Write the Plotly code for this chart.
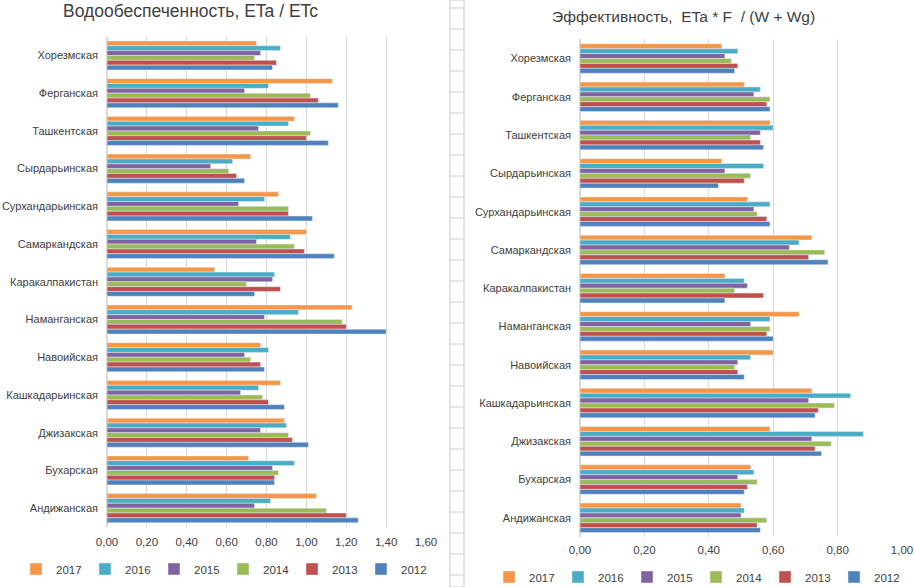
import plotly.graph_objs as go

# Regions, top to bottom as in the chart
regions = ['Хорезмская', 'Ферганская', 'Ташкентская', 'Сырдарьинская', 'Сурхандарьинская',
           'Самаркандская', 'Каракалпакистан', 'Наманганская', 'Навоийская', 'Кашкадарьинская',
           'Джизакская', 'Бухарская', 'Андижанская']

years = ['2017', '2016', '2015', '2014', '2013', '2012']
colors = ['#F79646', '#4BACC6', '#8064A2', '#9BBB59', '#C0504D', '#4F81BD']

# Водообеспеченность, ETa / ETc
water_2017 = [0.75, 1.13, 0.94, 0.72, 0.86, 1.00, 0.54, 1.23, 0.77, 0.87, 0.89, 0.71, 1.05]
water_2016 = [0.87, 0.81, 0.91, 0.63, 0.79, 0.92, 0.84, 0.96, 0.81, 0.76, 0.90, 0.94, 0.82]
water_2015 = [0.77, 0.69, 0.76, 0.52, 0.66, 0.75, 0.83, 0.79, 0.69, 0.67, 0.77, 0.83, 0.74]
water_2014 = [0.74, 1.02, 1.02, 0.61, 0.91, 0.94, 0.70, 1.18, 0.72, 0.78, 0.91, 0.86, 1.10]
water_2013 = [0.85, 1.06, 1.00, 0.65, 0.91, 0.99, 0.87, 1.20, 0.77, 0.81, 0.93, 0.84, 1.20]
water_2012 = [0.83, 1.16, 1.11, 0.69, 1.03, 1.14, 0.74, 1.40, 0.79, 0.89, 1.01, 0.84, 1.26]

# Эффективность, ETa * F / (W + Wg)
eff_2017 = [0.44, 0.51, 0.59, 0.44, 0.52, 0.72, 0.45, 0.68, 0.60, 0.72, 0.59, 0.53, 0.50]
eff_2016 = [0.49, 0.56, 0.60, 0.57, 0.59, 0.68, 0.51, 0.59, 0.53, 0.84, 0.88, 0.54, 0.51]
eff_2015 = [0.45, 0.54, 0.56, 0.45, 0.54, 0.65, 0.52, 0.53, 0.49, 0.71, 0.72, 0.49, 0.50]
eff_2014 = [0.47, 0.59, 0.53, 0.53, 0.55, 0.76, 0.48, 0.59, 0.48, 0.79, 0.78, 0.55, 0.58]
eff_2013 = [0.49, 0.58, 0.56, 0.51, 0.58, 0.71, 0.57, 0.58, 0.49, 0.74, 0.73, 0.52, 0.55]
eff_2012 = [0.48, 0.59, 0.57, 0.43, 0.59, 0.77, 0.45, 0.60, 0.51, 0.73, 0.75, 0.51, 0.56]

water = [water_2017, water_2016, water_2015, water_2014, water_2013, water_2012]
eff = [eff_2017, eff_2016, eff_2015, eff_2014, eff_2013, eff_2012]

W, H = 914, 587
font = 'Liberation Sans'

data = []
for year, color, vals in zip(years, colors, water):
    data.append(go.Bar(y=regions, x=vals, orientation='h', name=year, marker={'color': color},
                       xaxis='x', yaxis='y', legend='legend'))
for year, color, vals in zip(years, colors, eff):
    data.append(go.Bar(y=regions, x=vals, orientation='h', name=year, marker={'color': color},
                       xaxis='x2', yaxis='y2', legend='legend2'))

axis_x = dict(showgrid=True, gridcolor='#D9D9D9', gridwidth=1, zeroline=True, zerolinecolor='#D9D9D9',
              showline=False, ticks='', tickfont={'size': 11.5, 'color': '#404040'}, automargin=False)
axis_y = dict(autorange='reversed', showgrid=False, showline=False, ticks='', ticklabelstandoff=8,
              tickfont={'size': 11, 'color': '#404040'}, automargin=False)

legend_style = dict(orientation='h', xanchor='center', yanchor='middle', xref='container',
                    yref='container', font={'size': 11.5}, itemwidth=30, entrywidth=24,
                    tracegroupgap=0, bgcolor='rgba(0,0,0,0)')

# Spreadsheet strip between the two charts
shapes = [dict(type='rect', xref='paper', yref='paper', x0=450 / W, x1=464 / W, y0=0, y1=1,
               line={'color': '#C8C8C8', 'width': 1}, fillcolor='white', layer='below')]
for yp in range(8, H, 21):
    shapes.append(dict(type='line', xref='paper', yref='paper', x0=450 / W, x1=464 / W,
                       y0=1 - yp / H, y1=1 - yp / H, line={'color': '#D0D0D0', 'width': 1}))

layout = go.Layout(
    width=W, height=H, margin=dict(l=0, r=0, t=0, b=0, autoexpand=False),
    paper_bgcolor='white', plot_bgcolor='white',
    font={'family': font, 'color': '#404040'},
    barmode='group', bargap=0.23, bargroupgap=0,
    xaxis=dict(axis_x, domain=[107 / W, 426 / W], range=[0, 1.6], dtick=0.2, tickformat='.2f',
               ticklabelstandoff=6, anchor='y'),
    yaxis=dict(axis_y, domain=[1 - 527 / H, 1 - 36.6 / H], anchor='x'),
    xaxis2=dict(axis_x, domain=[580 / W, 902 / W], range=[0, 1.0], dtick=0.2, tickformat='.2f',
                ticklabelstandoff=4, anchor='y2'),
    yaxis2=dict(axis_y, domain=[1 - 537 / H, 1 - 39.4 / H], anchor='x2'),
    separators=', ',
    legend=dict(legend_style, x=223 / W, y=1 - 569 / H),
    legend2=dict(legend_style, x=696 / W, y=1 - 577 / H),
    annotations=[
        dict(text='Водообеспеченность, ETa / ETc', x=190 / W, y=1 - 11 / H, xref='paper', yref='paper',
             xanchor='center', yanchor='middle', showarrow=False, font={'size': 17.5, 'color': '#404040'}),
        dict(text='Эффективность,  ETa * F  / (W + Wg)', x=683 / W, y=1 - 16 / H, xref='paper',
             yref='paper', xanchor='center', yanchor='middle', showarrow=False,
             font={'size': 15.5, 'color': '#404040'}),
    ],
    shapes=shapes,
)

fig = go.Figure(data=data, layout=layout)
# drop the page's default body margin so the figure sits at the window's corner
fig.write_html('out.html', config={'displayModeBar': False},
               post_script="document.body.style.margin='0';")
